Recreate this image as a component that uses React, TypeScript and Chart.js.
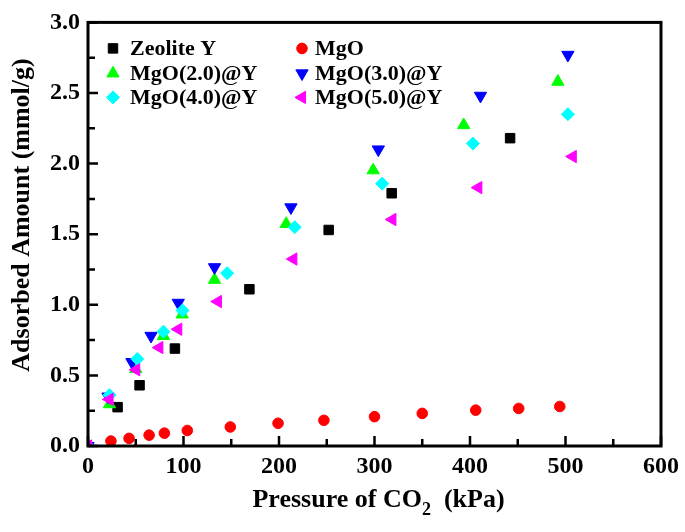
import React, { useEffect, useRef } from 'react';
import { Chart, registerables } from 'chart.js';

Chart.register(...registerables);

const FONT = "'Liberation Serif', 'Times New Roman', Times, serif";

// ---- Data ----
const seriesNames = ['Zeolite Y', 'MgO', 'MgO(2.0)@Y', 'MgO(3.0)@Y', 'MgO(4.0)@Y', 'MgO(5.0)@Y'];
const seriesColors = ['#000000', '#ff0000', '#00ff00', '#0000ff', '#00ffff', '#ff00ff'];
const seriesStyles = ['rect', 'circle', 'triangle', 'triangle', 'rectRot', 'triangle'];
const seriesRotations = [0, 0, 0, 180, 0, -90];
const seriesRadii = [7.2, 5.8, 7.6, 7.6, 7.0, 7.6];

const zeoliteX = [31, 54, 91, 169, 252, 318, 442];
const zeoliteY = [0.275, 0.43, 0.69, 1.11, 1.53, 1.79, 2.18];

const mgoX = [24, 43, 64, 80, 104, 149, 199, 247, 300, 350, 406, 451, 494];
const mgoY = [0.035, 0.054, 0.077, 0.091, 0.11, 0.135, 0.161, 0.182, 0.208, 0.231, 0.254, 0.266, 0.28];

const mgo2X = [0, 22.5, 50, 79, 98.6, 132.5, 207.5, 298.6, 393.4, 492];
const mgo2Y = [0, 0.296, 0.545, 0.78, 0.932, 1.177, 1.573, 1.953, 2.273, 2.58];

const mgo3X = [0, 21, 46, 66, 94.5, 132.5, 212.5, 304, 411, 502.5];
const mgo3Y = [0, 0.35, 0.594, 0.78, 1.014, 1.266, 1.69, 2.1, 2.48, 2.77];

const mgo4X = [0, 22.5, 51.6, 79, 99, 145.7, 216.5, 308, 403, 502.5];
const mgo4Y = [0, 0.36, 0.617, 0.81, 0.96, 1.224, 1.55, 1.858, 2.142, 2.35];

const mgo5X = [0, 22.5, 50.5, 74.7, 94.5, 136, 215, 318.7, 408.7, 507.6];
const mgo5Y = [0, 0.33, 0.54, 0.697, 0.827, 1.023, 1.324, 1.604, 1.83, 2.05];

const seriesX = [zeoliteX, mgoX, mgo2X, mgo3X, mgo4X, mgo5X];
const seriesY = [zeoliteY, mgoY, mgo2Y, mgo3Y, mgo4Y, mgo5Y];

const xTicks = [0, 100, 200, 300, 400, 500, 600];
const yTicks = [0, 0.5, 1.0, 1.5, 2.0, 2.5, 3.0];

const yTitle = 'Adsorbed Amount (mmol/g)';
const xTitleParts = ['Pressure of CO', '2', '  (kPa)'];

// ---- marker drawing for legend (same shapes as Chart.js) ----
function drawMarker(ctx: CanvasRenderingContext2D, style: string, rotDeg: number, r: number, x: number, y: number, color: string) {
  ctx.save();
  ctx.fillStyle = color;
  ctx.strokeStyle = color;
  ctx.lineWidth = 1;
  ctx.beginPath();
  const rad = (rotDeg * Math.PI) / 180;
  if (style === 'circle') {
    ctx.arc(x, y, r, 0, Math.PI * 2);
  } else if (style === 'rect') {
    const s = Math.SQRT1_2 * r;
    ctx.rect(x - s, y - s, 2 * s, 2 * s);
  } else if (style === 'rectRot') {
    ctx.moveTo(x, y - r);
    ctx.lineTo(x + r, y);
    ctx.lineTo(x, y + r);
    ctx.lineTo(x - r, y);
  } else {
    let a = rad;
    ctx.moveTo(x + Math.sin(a) * r, y - Math.cos(a) * r);
    a += (2 * Math.PI) / 3;
    ctx.lineTo(x + Math.sin(a) * r, y - Math.cos(a) * r);
    a += (2 * Math.PI) / 3;
    ctx.lineTo(x + Math.sin(a) * r, y - Math.cos(a) * r);
  }
  ctx.closePath();
  ctx.fill();
  ctx.stroke();
  ctx.restore();
}

const framePlugin = {
  id: 'frameTicks',
  afterDatasetsDraw(chart: any) {
    const { ctx, chartArea: a, scales } = chart;
    const xs = scales.x;
    const ys = scales.y;
    ctx.save();
    ctx.strokeStyle = '#000';
    ctx.lineWidth = 2.5;
    ctx.beginPath();
    for (let v = 0; v <= 600; v += 50) {
      const px = xs.getPixelForValue(v);
      const len = v % 100 === 0 ? 10 : 7;
      ctx.moveTo(px, a.bottom);
      ctx.lineTo(px, a.bottom - len);
    }
    for (let i = 0; i <= 12; i++) {
      const v = i * 0.25;
      const py = ys.getPixelForValue(v);
      const len = i % 2 === 0 ? 10 : 7;
      ctx.moveTo(a.left, py);
      ctx.lineTo(a.left + len, py);
    }
    ctx.stroke();
    ctx.lineWidth = 3;
    ctx.strokeRect(a.left, a.top, a.right - a.left, a.bottom - a.top);
    ctx.restore();
  },
  afterDraw(chart: any) {
    const { ctx, chartArea: a } = chart;
    ctx.save();
    // legend
    ctx.font = `bold 22px ${FONT}`;
    ctx.fillStyle = '#000';
    ctx.textBaseline = 'middle';
    ctx.textAlign = 'left';
    const colMarker = [a.left + 25, a.left + 214];
    const colText = [a.left + 42, a.left + 227];
    const rows = [a.top + 26, a.top + 51, a.top + 75];
    seriesNames.forEach((name, i) => {
      const col = i % 2;
      const row = Math.floor(i / 2);
      drawMarker(ctx, seriesStyles[i], seriesRotations[i], seriesRadii[i] - 0.5, colMarker[col], rows[row], seriesColors[i]);
      ctx.fillStyle = '#000';
      ctx.fillText(name, colText[col], rows[row] + 1);
    });

    // y title
    ctx.save();
    ctx.font = `bold 26px ${FONT}`;
    ctx.translate(22, 215);
    ctx.rotate(-Math.PI / 2);
    ctx.textAlign = 'center';
    ctx.textBaseline = 'middle';
    ctx.fillText(yTitle, 0, 0);
    ctx.restore();

    // x title with subscript
    const big = `bold 26px ${FONT}`;
    const small = `bold 18px ${FONT}`;
    ctx.textBaseline = 'alphabetic';
    ctx.textAlign = 'left';
    ctx.font = big;
    const w0 = ctx.measureText(xTitleParts[0]).width;
    const w2 = ctx.measureText(xTitleParts[2]).width;
    ctx.font = small;
    const w1 = ctx.measureText(xTitleParts[1]).width;
    const total = w0 + w1 + w2;
    const cx = (a.left + a.right) / 2 + 4;
    let sx = cx - total / 2;
    const base = 507;
    ctx.font = big;
    ctx.fillText(xTitleParts[0], sx, base);
    sx += w0;
    ctx.font = small;
    ctx.fillText(xTitleParts[1], sx, base + 8);
    sx += w1;
    ctx.font = big;
    ctx.fillText(xTitleParts[2], sx, base);
    ctx.restore();
  },
};

export default function App() {
  const ref = useRef<HTMLCanvasElement>(null);
  useEffect(() => {
    document.body.style.margin = '0';
    const canvas = ref.current;
    if (!canvas) return;
    const datasets = seriesNames.map((name, i) => ({
      label: name,
      data: seriesX[i].map((x, j) => ({ x, y: seriesY[i][j] })),
      pointStyle: seriesStyles[i],
      pointRotation: seriesRotations[i],
      pointRadius: seriesRadii[i] - 0.5,
      pointHoverRadius: seriesRadii[i] - 0.5,
      backgroundColor: seriesColors[i],
      borderColor: seriesColors[i],
      pointBorderWidth: 1,
      showLine: false,
      order: seriesNames.length - i,
    }));
    const chart = new Chart(canvas, {
      type: 'scatter',
      data: { datasets },
      options: {
        animation: false,
        responsive: false,
        devicePixelRatio: 1,
        layout: { padding: { left: 0, top: 16, right: 21, bottom: 0 } },
        plugins: {
          legend: { display: false },
          tooltip: { enabled: false },
        },
        scales: {
          x: {
            type: 'linear',
            min: 0,
            max: 600,
            afterBuildTicks: (s: any) => {
              s.ticks = xTicks.map((v) => ({ value: v }));
            },
            afterFit: (s: any) => {
              s.height = 86;
            },
            grid: { display: false, drawTicks: false },
            border: { display: false },
            ticks: {
              color: '#000',
              padding: 6,
              maxRotation: 0,
              font: { family: FONT, size: 24, weight: 'bold' },
              callback: (v: any) => String(v),
            },
          },
          y: {
            type: 'linear',
            min: 0,
            max: 3,
            afterBuildTicks: (s: any) => {
              s.ticks = yTicks.map((v) => ({ value: v }));
            },
            afterFit: (s: any) => {
              s.width = 88;
            },
            grid: { display: false, drawTicks: false },
            border: { display: false },
            ticks: {
              color: '#000',
              padding: 8,
              font: { family: FONT, size: 24, weight: 'bold' },
              callback: (v: any) => Number(v).toFixed(1),
            },
          },
        },
      },
      plugins: [framePlugin],
    } as any);
    return () => chart.destroy();
  }, []);
  return (
    <div style={{ position: 'absolute', left: 0, top: 0, width: 685, height: 532 }}>
      <canvas ref={ref} width={685} height={532} style={{ width: 685, height: 532, display: 'block' }} />
    </div>
  );
}
